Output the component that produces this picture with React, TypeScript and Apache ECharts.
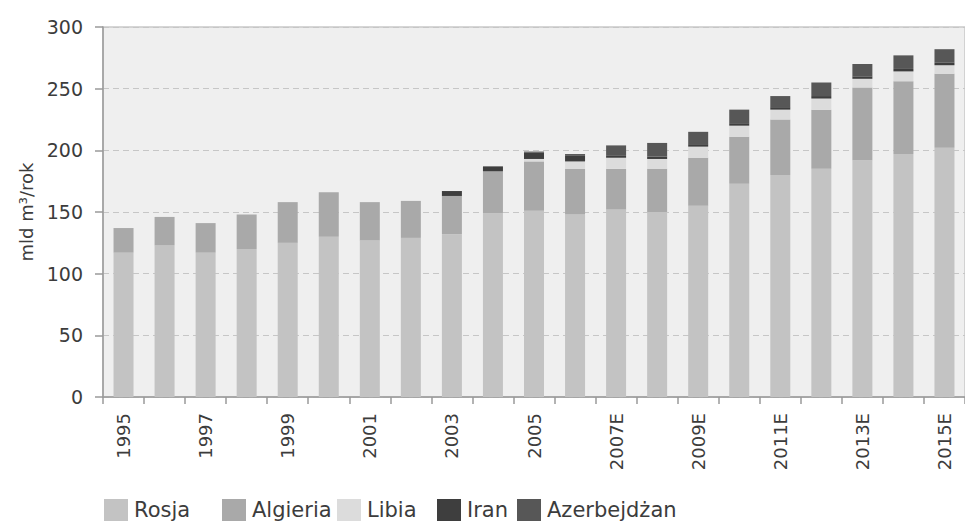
import React, { useEffect, useRef } from "react";
import * as echarts from "echarts";

const years = [
  "1995", "1996", "1997", "1998", "1999", "2000", "2001", "2002", "2003", "2004",
  "2005", "2006", "2007E", "2008E", "2009E", "2010E", "2011E", "2012E", "2013E", "2014E", "2015E",
];
const rosja = [117, 123, 117, 120, 125, 130, 127, 129, 132, 149, 151, 148, 152, 150, 155, 173, 180, 185, 192, 197, 202];
const algieria = [20, 23, 24, 28, 33, 36, 31, 30, 31, 34, 40, 37, 33, 35, 39, 38, 45, 48, 59, 59, 60];
const libia = [0, 0, 0, 0, 0, 0, 0, 0, 0, 0, 2, 6, 9, 8, 9, 9, 8, 9, 7, 8, 7];
const iran = [0, 0, 0, 0, 0, 0, 0, 0, 4, 4, 5, 5, 2, 2, 2, 2, 2, 2, 2, 2, 2];
const azerbejdzan = [0, 0, 0, 0, 0, 0, 0, 0, 0, 0, 1, 1, 8, 11, 10, 11, 9, 11, 10, 11, 11];

const seriesNames = ["Rosja", "Algieria", "Libia", "Iran", "Azerbejdżan"];
const seriesData = [rosja, algieria, libia, iran, azerbejdzan];
const seriesColors = ["#c3c3c3", "#a9a9a9", "#dcdcdc", "#3e3e3e", "#575757"];
const legendLefts = [104, 222, 337, 437, 517];

const FONT = "DejaVu Sans";
const TEXT = "#3c3c3c";

export default function App() {
  const ref = useRef<HTMLDivElement>(null);
  useEffect(() => {
    if (!ref.current) return;
    const chart = echarts.init(ref.current, undefined, { renderer: "svg" });
    chart.setOption({
      animation: false,
      backgroundColor: "#ffffff",
      textStyle: { fontFamily: FONT },
      grid: {
        left: 103,
        top: 27,
        bottom: 127,
        right: -5,
        show: true,
        backgroundColor: "#efefef",
        borderColor: "#c9c9c9",
        borderWidth: 1.5,
      },
      legend: seriesNames.map((n, i) => ({
        data: [n],
        left: legendLefts[i],
        top: 499,
        itemWidth: 24,
        itemHeight: 22,
        itemGap: 0,
        padding: 0,
        textStyle: { fontFamily: FONT, fontSize: 21, color: TEXT, padding: [0, 0, 0, 1] },
        icon: "rect",
      })),
      xAxis: {
        type: "category",
        data: years,
        axisLine: { lineStyle: { color: "#9a9a9a", width: 1.5 } },
        axisTick: { show: true, interval: 0, length: 7, lineStyle: { color: "#9a9a9a", width: 1.5 } },
        axisLabel: {
          interval: 1,
          rotate: 90,
          margin: 16,
          fontFamily: FONT,
          fontSize: 18,
          color: TEXT,
        },
      },
      yAxis: {
        type: "value",
        min: 0,
        max: 300,
        interval: 50,
        name: "mld m³/rok",
        nameLocation: "middle",
        nameGap: 66,
        nameTextStyle: { fontFamily: FONT, fontSize: 18, color: TEXT },
        axisLine: { show: true, lineStyle: { color: "#9a9a9a", width: 1.5 } },
        axisTick: { show: true, length: 8, lineStyle: { color: "#9a9a9a", width: 1.5 } },
        axisLabel: { margin: 20, fontFamily: FONT, fontSize: 19, color: TEXT },
        splitLine: { show: true, lineStyle: { color: "#c6c6c6", type: [6, 4], width: 1 } },
      },
      series: seriesNames.map((n, i) => ({
        name: n,
        type: "bar",
        stack: "total",
        barWidth: 20,
        data: seriesData[i],
        itemStyle: { color: seriesColors[i] },
      })),
    });
    return () => chart.dispose();
  }, []);
  return (
    <div
      ref={ref}
      style={{ position: "fixed", left: 0, top: 0, width: 965, height: 524 }}
    />
  );
}
